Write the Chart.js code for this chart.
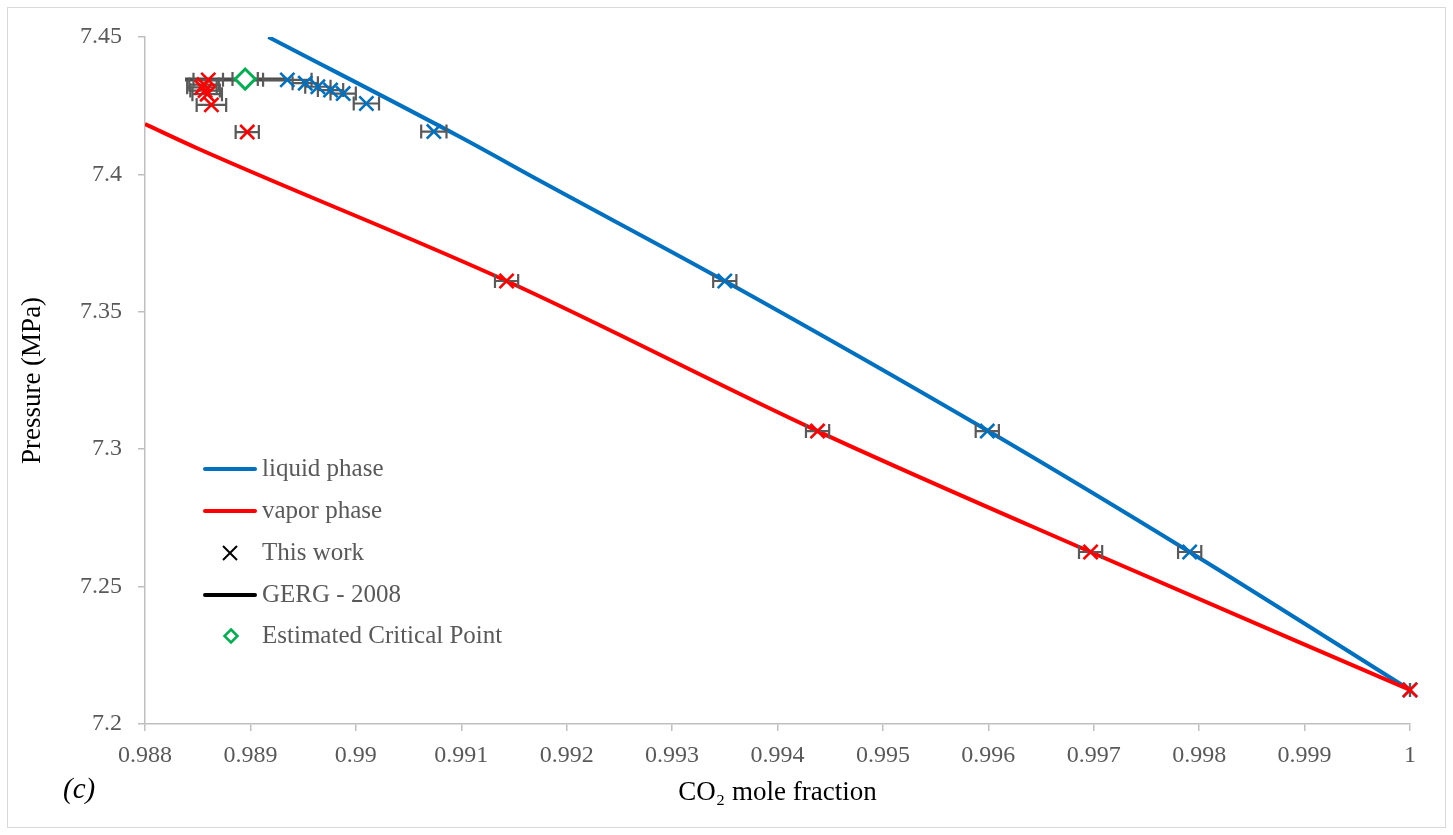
<!DOCTYPE html>
<html>
<head>
<meta charset="utf-8">
<script src="https://cdn.jsdelivr.net/npm/chart.js@4.4.1/dist/chart.umd.min.js"></script>
<style>
  html, body { margin: 0; padding: 0; background: #fff; }
  #wrap { position: relative; width: 1453px; height: 835px; }
</style>
</head>
<body>
<div id="wrap"><canvas id="vleChart"></canvas></div>
<script>
// measured points (this work)
const liquidX = [0.98935, 0.98952, 0.98964, 0.98976, 0.98988, 0.99010, 0.99074, 0.99350, 0.99599, 0.99791, 1.0];
const liquidP = [7.4344, 7.4332, 7.4319, 7.4307, 7.4294, 7.4258, 7.4156, 7.3612, 7.3066, 7.2626, 7.2124];
const liquidErr = [0.00023, 0.00012, 0.00012, 0.00012, 0.00012, 0.00012, 0.00012, 0.00011, 0.00011, 0.00011, 0];

const vaporX = [0.98860, 0.98856, 0.98854, 0.98857, 0.98859, 0.98863, 0.98897, 0.99143, 0.99438, 0.99697, 1.0];
const vaporP = [7.4344, 7.4327, 7.4317, 7.4305, 7.4292, 7.4253, 7.4154, 7.3612, 7.3066, 7.2626, 7.2124];
const vaporErr = [0.00014, 0.00014, 0.00014, 0.00014, 0.00014, 0.00014, 0.00011, 0.00011, 0.00011, 0.00011, 0];

// phase envelope curves
const liquidLineX = [0.98917, 0.99099, 0.99175, 0.99350, 0.99600, 0.99791, 1.0];
const liquidLineP = [7.4500, 7.4136, 7.3976, 7.3612, 7.3066, 7.2626, 7.2124];
const vaporLineX = [0.98800, 0.98849, 0.99143, 0.99438, 0.99697, 1.0];
const vaporLineP = [7.4183, 7.4096, 7.3612, 7.3066, 7.2626, 7.2124];

// GERG-2008 segment and critical point
const gergX = [0.98838, 0.98935];
const gergP = [7.4345, 7.4345];
const criticalX = [0.98895];
const criticalP = [7.4347];
const criticalErr = [0.00012];

const xTickLabels = ['0.988', '0.989', '0.99', '0.991', '0.992', '0.993', '0.994', '0.995', '0.996', '0.997', '0.998', '0.999', '1'];
const yTickLabels = ['7.2', '7.25', '7.3', '7.35', '7.4', '7.45'];
const legendLabels = ['liquid phase', 'vapor phase', 'This work', 'GERG - 2008', 'Estimated Critical Point'];

const BLUE = '#0070C0';
const RED = '#FF0000';
const GREEN = '#00B050';
const GREY = '#595959';
const AXIS = '#BFBFBF';
const FONT = "'Liberation Serif', 'Times New Roman', serif";

const toPts = (xs, ys) => xs.map((x, i) => ({ x: x, y: ys[i] }));

const errorBars = {
    id: 'errorBars',
    beforeDatasetDraw(chart, args) {
        const ds = chart.data.datasets[args.index];
        if (!ds.xErr) return;
        const xs = chart.scales.x, ys = chart.scales.y;
        const ctx = chart.ctx;
        ctx.save();
        ctx.strokeStyle = GREY;
        ctx.lineWidth = 2.2;
        ds.data.forEach((p, i) => {
            const e = ds.xErr[i];
            const y = ys.getPixelForValue(p.y);
            const x1 = xs.getPixelForValue(p.x - e);
            const x2 = xs.getPixelForValue(p.x + e);
            ctx.beginPath();
            ctx.moveTo(x1, y); ctx.lineTo(x2, y);
            ctx.moveTo(x1, y - 7); ctx.lineTo(x1, y + 7);
            ctx.moveTo(x2, y - 7); ctx.lineTo(x2, y + 7);
            ctx.stroke();
        });
        ctx.restore();
    }
};

const frame = {
    id: 'frame',
    beforeDraw(chart) {
        const ctx = chart.ctx;
        ctx.save();
        ctx.fillStyle = '#fff';
        ctx.fillRect(0, 0, chart.width, chart.height);
        ctx.strokeStyle = '#D9D9D9';
        ctx.lineWidth = 1;
        ctx.strokeRect(7.5, 7.5, chart.width - 15, chart.height - 15);
        ctx.restore();
    },
    afterDraw(chart) {
        const ctx = chart.ctx;
        ctx.save();
        // legend
        const rows = [469, 511, 553, 595, 636];
        ctx.font = '25px ' + FONT;
        ctx.textBaseline = 'middle';
        legendLabels.forEach((txt, i) => {
            const y = rows[i];
            ctx.lineCap = 'round';
            if (i === 0 || i === 1 || i === 3) {
                ctx.strokeStyle = i === 0 ? BLUE : (i === 1 ? RED : '#000');
                ctx.lineWidth = 4;
                ctx.beginPath(); ctx.moveTo(205, y); ctx.lineTo(255, y); ctx.stroke();
            } else if (i === 2) {
                ctx.strokeStyle = '#000';
                ctx.lineWidth = 2;
                ctx.lineCap = 'butt';
                ctx.beginPath();
                ctx.moveTo(223, y - 7); ctx.lineTo(237, y + 7);
                ctx.moveTo(237, y - 7); ctx.lineTo(223, y + 7);
                ctx.stroke();
            } else {
                ctx.strokeStyle = GREEN;
                ctx.lineWidth = 2.5;
                ctx.lineCap = 'butt';
                ctx.beginPath();
                ctx.moveTo(231, y - 6.5); ctx.lineTo(237.5, y); ctx.lineTo(231, y + 6.5); ctx.lineTo(224.5, y);
                ctx.closePath(); ctx.stroke();
            }
            ctx.fillStyle = GREY;
            ctx.fillText(txt, 262, y);
        });
        // panel tag
        ctx.fillStyle = '#000';
        ctx.font = 'italic 29px ' + FONT;
        ctx.fillText('(c)', 63, 790);
        ctx.restore();
    }
};

new Chart(document.getElementById('vleChart'), {
    type: 'scatter',
    data: {
        datasets: [
            { label: legendLabels[2], data: toPts(vaporX, vaporP), xErr: vaporErr, pointStyle: 'crossRot', pointRadius: 10, borderColor: RED, borderWidth: 2.6, backgroundColor: RED, order: 0, clip: false },
            { label: legendLabels[2], data: toPts(liquidX, liquidP), xErr: liquidErr, pointStyle: 'crossRot', pointRadius: 10, borderColor: BLUE, borderWidth: 2.6, backgroundColor: BLUE, order: 1, clip: false },
            { label: legendLabels[4], data: toPts(criticalX, criticalP), xErr: criticalErr, pointStyle: 'rectRot', pointRadius: 10, borderColor: GREEN, borderWidth: 3, backgroundColor: '#fff', order: 2, clip: false },
            { label: legendLabels[3], data: toPts(gergX, gergP), showLine: true, borderColor: '#4A4A4A', borderWidth: 4, pointRadius: 0, order: 3 },
            { label: legendLabels[1], data: toPts(vaporLineX, vaporLineP), showLine: true, cubicInterpolationMode: 'monotone', borderColor: RED, borderWidth: 4, pointRadius: 0, order: 4, clip: 0 },
            { label: legendLabels[0], data: toPts(liquidLineX, liquidLineP), showLine: true, cubicInterpolationMode: 'monotone', borderColor: BLUE, borderWidth: 4, pointRadius: 0, order: 5, clip: 0 }
        ]
    },
    options: {
        responsive: true,
        maintainAspectRatio: false,
        animation: false,
        layout: { padding: { left: 0, right: 43, top: 37, bottom: 0 } },
        plugins: { legend: { display: false }, tooltip: { enabled: false } },
        scales: {
            x: {
                type: 'linear',
                min: 0.988,
                max: 1.0,
                afterBuildTicks: (s) => { s.ticks = xTickLabels.map(t => ({ value: parseFloat(t) })); },
                afterFit: (s) => { s.height = 111; },
                ticks: {
                    autoSkip: false,
                    maxRotation: 0,
                    padding: 10,
                    color: GREY,
                    font: { family: FONT, size: 24 },
                    callback: (v, i) => xTickLabels[i]
                },
                grid: { drawOnChartArea: false, drawTicks: true, tickLength: 7, color: AXIS, lineWidth: 1.5 },
                border: { display: true, color: AXIS, width: 1.5 },
                title: { display: true, text: 'CO₂ mole fraction', color: '#000', font: { family: FONT, size: 27 }, padding: { top: 0, bottom: 25.8 } }
            },
            y: {
                type: 'linear',
                min: 7.2,
                max: 7.45,
                afterBuildTicks: (s) => { s.ticks = yTickLabels.map(t => ({ value: parseFloat(t) })); },
                afterFit: (s) => { s.width = 145; },
                ticks: {
                    autoSkip: false,
                    padding: 16,
                    color: GREY,
                    font: { family: FONT, size: 24 },
                    callback: (v, i) => yTickLabels[i]
                },
                grid: { drawOnChartArea: false, drawTicks: true, tickLength: 7, color: AXIS, lineWidth: 1.5 },
                border: { display: true, color: AXIS, width: 1.5 },
                title: { display: true, text: 'Pressure (MPa)', color: '#000', font: { family: FONT, size: 27 }, padding: { top: 16.8, bottom: 0 } }
            }
        }
    },
    plugins: [errorBars, frame]
});
</script>
</body>
</html>
